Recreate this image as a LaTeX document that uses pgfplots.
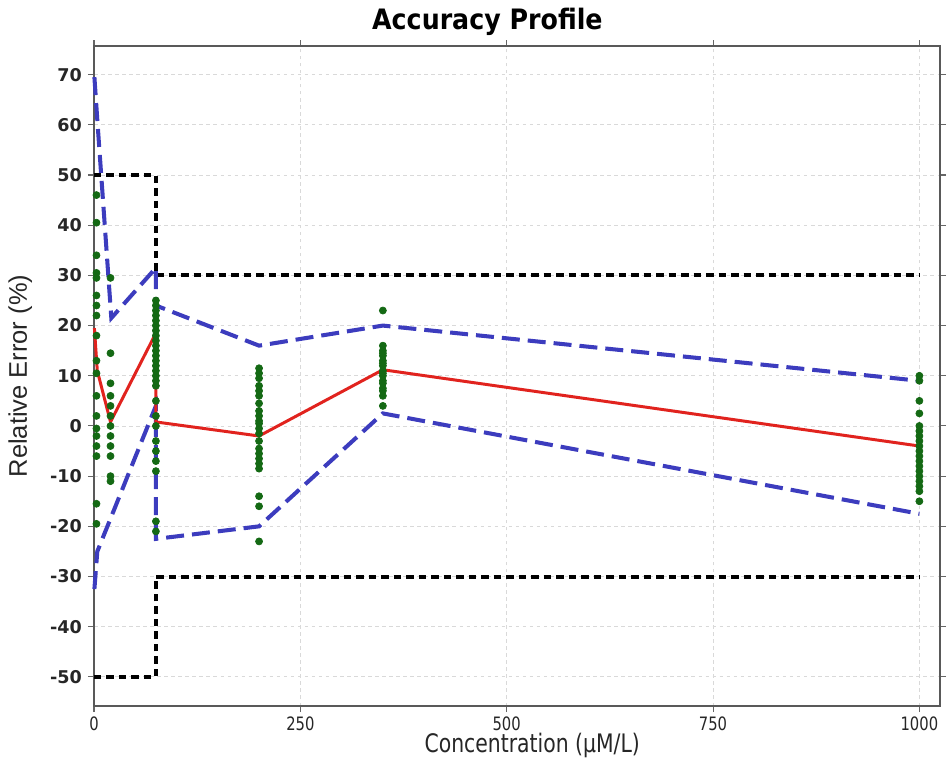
\documentclass[border=0pt]{standalone}
\usepackage{fontspec}
\setmainfont{DejaVu Sans}
\newfontfamily\labfont{Liberation Sans}
\newfontfamily\condfont[FakeStretch=0.8]{DejaVu Sans}
\newfontfamily\titlefont[FakeStretch=0.9]{DejaVu Sans}
\usepackage{pgfplots}
\pgfplotsset{compat=1.18}

\definecolor{tolblue}{RGB}{60,60,190}
\definecolor{meanred}{RGB}{225,35,30}
\definecolor{ptgreen}{RGB}{20,105,20}

\begin{document}
\begin{tikzpicture}
\begin{axis}[
  scale only axis,
  width=16.92cm, height=13.2cm,
  xmin=0, xmax=1025,
  ymin=-55.8, ymax=75.7,
  xtick={0,250,500,750,1000},
  ytick={-50,-40,...,70},
  /pgf/number format/assume math mode=true,
  /pgf/number format/1000 sep={},
  tick align=outside,
  major tick length=0.12cm,
  tick style={gray!80!black, line width=0.6pt},
  axis line style={gray!70!black, line width=1pt},
  grid=major,
  major grid style={gray!30, dash pattern=on 2pt off 2pt, line width=0.5pt},
  xticklabel style={font=\condfont\fontsize{10.5}{12}\selectfont, text=black!85},
  xticklabel shift=-1pt,
  yticklabel style={font=\fontsize{10}{12}\selectfont\bfseries, text=black!85},
  title={Accuracy Profile},
  title style={at={(axis description cs:0.465,1.02)}, anchor=center,
    font=\titlefont\bfseries\fontsize{16}{18}\selectfont},
  xlabel={Concentration (µM/L)},
  xlabel style={at={(axis description cs:0.518,-0.06)}, anchor=center,
    font=\condfont\fontsize{14.5}{16}\selectfont, text=black!85},
  ylabel={Relative Error (\%)},
  ylabel style={at={(axis description cs:-0.087,0.5)}, anchor=center, rotate=0,
    font=\labfont\fontsize{14.5}{16}\selectfont, text=black!85},
  clip=false,
]
% replicate measurements (relative error, %)
\addplot[only marks, mark=*, mark size=2pt, color=ptgreen] coordinates {
  (3,46) (3,40.5) (3,34) (3,30.5) (3,29.5) (3,26) (3,24) (3,22) (3,18)
  (3,13) (3,10.5) (3,6) (3,2) (3,-0.5) (3,-2) (3,-4) (3,-6) (3,-15.5) (3,-19.5)
  (20,29.5) (20,14.5) (20,8.5) (20,6) (20,4) (20,2) (20,0) (20,-2) (20,-4)
  (20,-6) (20,-10) (20,-11)
  (75,25) (75,24) (75,23) (75,22) (75,21) (75,20) (75,19) (75,18) (75,17)
  (75,16) (75,15) (75,14) (75,13) (75,12) (75,11) (75,10) (75,9) (75,8)
  (75,5) (75,2) (75,0) (75,-3) (75,-5) (75,-7) (75,-9) (75,-19) (75,-21)
  (200,11.5) (200,10.5) (200,9.5) (200,8) (200,7) (200,6) (200,4.5) (200,3)
  (200,2) (200,1) (200,0.5) (200,-0.5) (200,-1.5) (200,-3) (200,-4.5)
  (200,-5.5) (200,-6.5) (200,-7.5) (200,-8.5) (200,-14) (200,-16) (200,-23)
  (350,23) (350,16) (350,15) (350,14.5) (350,14) (350,13) (350,12.5) (350,12)
  (350,11) (350,10.5) (350,10) (350,9) (350,8.5) (350,7.5) (350,7) (350,6) (350,4)
  (1000,10) (1000,9) (1000,5) (1000,2.5) (1000,0) (1000,-1) (1000,-2) (1000,-3)
  (1000,-4) (1000,-5) (1000,-6) (1000,-7) (1000,-8) (1000,-9) (1000,-10)
  (1000,-11) (1000,-12) (1000,-13) (1000,-15)
};
% acceptance limits
\addplot[black, line width=2.3pt, dash pattern=on 0.15cm off 0.1cm] coordinates {
  (0,50) (75,50) (75,30) (1000,30)
};
\addplot[black, line width=2.3pt, dash pattern=on 0.15cm off 0.1cm] coordinates {
  (0,-50) (75,-50) (75,-30) (1000,-30)
};
% tolerance limits
\addplot[tolblue, line width=2.3pt, dash pattern=on 0.36cm off 0.16cm] coordinates {
  (0.5,69.5) (4,61) (21,21.5) (75,31.5) (75,24) (200,16) (350,20) (1000,9)
};
\addplot[tolblue, line width=2.3pt, dash pattern=on 0.36cm off 0.16cm] coordinates {
  (0.5,-32.5) (4,-25) (75,4) (75,-22.5) (200,-20) (350,2.5) (1000,-17.5)
};
% mean bias
\addplot[meanred, line width=1.7pt] coordinates {
  (0.5,19.5) (4,11) (20,0.8) (75,18.5) (75,0.8) (200,-2) (350,11.2) (1000,-4)
};
\path (axis description cs:-0.1111,-0.097) (axis description cs:1.0118,1.0697);
\end{axis}
\end{tikzpicture}
\end{document}
